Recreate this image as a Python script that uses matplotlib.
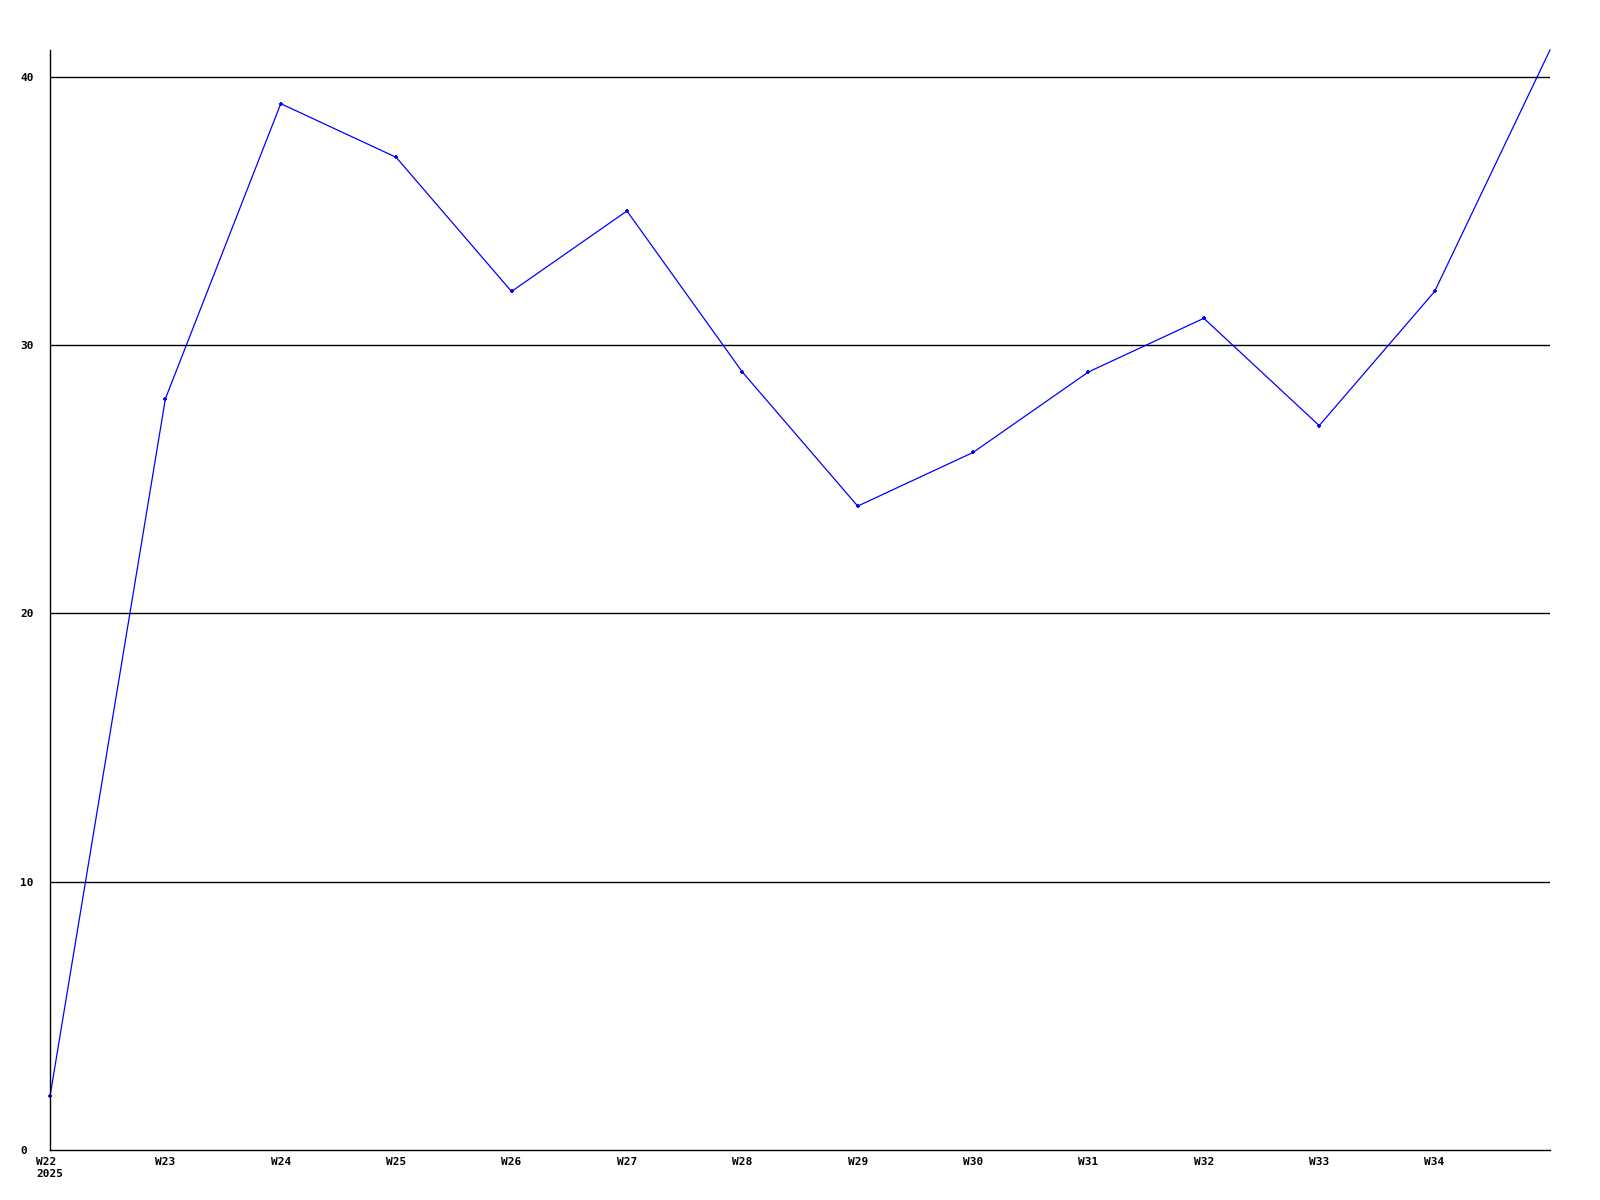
import matplotlib
matplotlib.use("Agg")
import matplotlib.pyplot as plt

# ===== DATA =====
weeks = ["W22", "W23", "W24", "W25", "W26", "W27", "W28",
         "W29", "W30", "W31", "W32", "W33", "W34", "W35"]
values = [2, 28, 39, 37, 32, 35, 29, 24, 26, 29, 31, 27, 32, 41]
year_label = "2025"
y_ticks = [0, 10, 20, 30, 40]

# ===== PLOT =====
fig = plt.figure(figsize=(16, 12), dpi=100)
ax = fig.add_axes([50 / 1600, 50 / 1200, 1500 / 1600, 1100 / 1200])

x = list(range(len(weeks)))
ax.plot(x, values, color="#0000ff", linewidth=0.9, marker="+",
        markersize=3.5, markeredgewidth=1.3, clip_on=False,
        markevery=list(range(len(weeks) - 1)))

ax.set_xlim(0, len(weeks) - 1)
ax.set_ylim(0, 41)

# horizontal grid lines
for t in y_ticks[1:]:
    ax.axhline(t, color="black", linewidth=1.0, zorder=0)

ax.set_yticks(y_ticks)
ax.set_yticklabels([str(t) for t in y_ticks], ha="left")

labels = list(weeks[:-1])
labels[0] = labels[0] + "\n" + year_label
ax.set_xticks(x[:-1])
ax.set_xticklabels(labels, multialignment="left")

for lab in ax.get_xticklabels() + ax.get_yticklabels():
    lab.set_fontfamily("DejaVu Sans Mono")
    lab.set_fontweight("bold")
    lab.set_fontsize(8)

ax.tick_params(axis="both", length=0)
ax.tick_params(axis="y", pad=21.5)
ax.tick_params(axis="x", pad=5)

ax.spines["top"].set_visible(False)
ax.spines["right"].set_visible(False)
ax.spines["left"].set_linewidth(1.0)
ax.spines["bottom"].set_linewidth(1.0)

fig.savefig("out.png", dpi=100, facecolor="white")
